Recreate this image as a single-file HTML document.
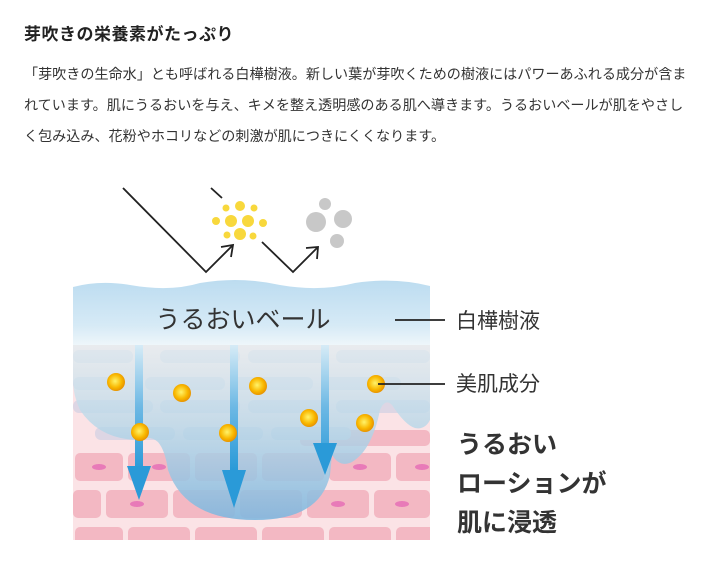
<!DOCTYPE html>
<html><head><meta charset="utf-8"><style>
body{margin:0;width:713px;height:570px;background:#fff;overflow:hidden;font-family:"Liberation Sans","Noto Sans CJK JP",sans-serif;color:#222}
h1{position:absolute;left:24px;top:20px;margin:0;font-size:17px;font-weight:bold;letter-spacing:0.5px}
p{position:absolute;left:24px;top:59px;margin:0;width:690px;font-size:14.1px;line-height:31px;color:#333;white-space:nowrap}
svg{position:absolute;left:0;top:0}
</style></head><body>
<h1>芽吹きの栄養素がたっぷり</h1>
<p>「芽吹きの生命水」とも呼ばれる白樺樹液。新しい葉が芽吹くための樹液にはパワーあふれる成分が含ま<br>れています。肌にうるおいを与え、キメを整え透明感のある肌へ導きます。うるおいベールが肌をやさし<br>く包み込み、花粉やホコリなどの刺激が肌につきにくくなります。</p>
<svg width="713" height="570" viewBox="0 0 713 570">
<defs>
<linearGradient id="veil" x1="0" y1="0" x2="0" y2="1"><stop offset="0" stop-color="#bcdcf0"/><stop offset="0.7" stop-color="#d6eaf6"/><stop offset="1" stop-color="#eef6fa"/></linearGradient>
<linearGradient id="blob" x1="0" y1="0" x2="0" y2="1"><stop offset="0" stop-color="#e4f0f2" stop-opacity="0.7"/><stop offset="0.5" stop-color="#b4d6e8" stop-opacity="0.8"/><stop offset="1" stop-color="#80b7de" stop-opacity="0.9"/></linearGradient>
<linearGradient id="arr" gradientUnits="userSpaceOnUse" x1="0" y1="345" x2="0" y2="470"><stop offset="0" stop-color="#d6ebf6"/><stop offset="0.5" stop-color="#6cb8e4"/><stop offset="1" stop-color="#2a9ad8"/></linearGradient>
<radialGradient id="dot" cx="0.45" cy="0.45" r="0.6"><stop offset="0" stop-color="#fff36a"/><stop offset="0.6" stop-color="#f9b800"/><stop offset="1" stop-color="#e38a00"/></radialGradient>
<clipPath id="c"><rect x="73" y="270" width="357" height="270"/></clipPath>
</defs>
<g clip-path="url(#c)">
<rect x="73" y="340" width="357" height="200" fill="#fbe3e6"/>
<g fill="#f3b8c3">
<rect x="75" y="453" width="48" height="28" rx="5"/><rect x="128" y="453" width="62" height="28" rx="5"/><rect x="195" y="453" width="62" height="28" rx="5"/><rect x="262" y="453" width="62" height="28" rx="5"/><rect x="329" y="453" width="62" height="28" rx="5"/><rect x="396" y="453" width="40" height="28" rx="5"/>
<rect x="73" y="490" width="28" height="28" rx="5"/><rect x="106" y="490" width="62" height="28" rx="5"/><rect x="173" y="490" width="62" height="28" rx="5"/><rect x="240" y="490" width="62" height="28" rx="5"/><rect x="307" y="490" width="62" height="28" rx="5"/><rect x="374" y="490" width="56" height="28" rx="5"/>
<rect x="75" y="527" width="48" height="20" rx="5"/><rect x="128" y="527" width="62" height="20" rx="5"/><rect x="195" y="527" width="62" height="20" rx="5"/><rect x="262" y="527" width="62" height="20" rx="5"/><rect x="329" y="527" width="62" height="20" rx="5"/><rect x="396" y="527" width="40" height="20" rx="5"/>
<rect x="300" y="430" width="130" height="16" rx="5"/>
</g>
<g fill="#e87ab8"><ellipse cx="99" cy="467" rx="7" ry="3"/><ellipse cx="159" cy="467" rx="7" ry="3"/><ellipse cx="360" cy="467" rx="7" ry="3"/><ellipse cx="137" cy="504" rx="7" ry="3"/><ellipse cx="338" cy="504" rx="7" ry="3"/><ellipse cx="402" cy="504" rx="7" ry="3"/><ellipse cx="422" cy="467" rx="7" ry="3"/></g>
<g fill="#ddd6e4">
<rect x="73" y="350" width="60" height="13" rx="6"/><rect x="160" y="350" width="80" height="13" rx="6"/><rect x="248" y="350" width="80" height="13" rx="6"/><rect x="336" y="350" width="94" height="13" rx="6"/>
<rect x="73" y="377" width="50" height="13" rx="6"/><rect x="145" y="377" width="80" height="13" rx="6"/><rect x="233" y="377" width="80" height="13" rx="6"/><rect x="321" y="377" width="80" height="13" rx="6"/>
<rect x="73" y="400" width="80" height="13" rx="6"/><rect x="160" y="400" width="80" height="13" rx="6"/><rect x="248" y="400" width="80" height="13" rx="6"/><rect x="336" y="400" width="94" height="13" rx="6"/>
<rect x="95" y="427" width="80" height="13" rx="6"/><rect x="183" y="427" width="80" height="13" rx="6"/><rect x="271" y="427" width="80" height="13" rx="6"/>
</g>
<path d="M73 340 L430 340 L430 420 Q425 430 415 428 Q405 425 392 405 Q385 398 380 410 Q372 450 352 462 Q340 468 332 455 L330 475 Q320 520 255 520 Q185 520 168 470 Q165 450 158 442 Q150 435 140 440 Q100 440 80 410 Q73 395 73 380Z" fill="url(#blob)"/>
<path d="M73 287 Q100 280 130 285 Q170 292 200 283 Q240 276 280 285 Q320 292 355 283 Q395 277 430 286 L430 345 L73 345Z" fill="url(#veil)"/>
</g>
<text x="243" y="328" font-size="25" text-anchor="middle" fill="#333" font-family="Liberation Sans,Noto Sans CJK JP,sans-serif">うるおいベール</text>
<g fill="url(#arr)">
<rect x="135" y="345" width="8" height="125"/>
<rect x="230" y="345" width="8" height="128"/>
<rect x="321" y="345" width="8" height="102"/>
</g>
<g fill="#2a9ad8">
<path d="M127 466 L151 466 L139 500Z"/>
<path d="M222 470 L246 470 L234 508Z"/>
<path d="M313 443 L337 443 L325 475Z"/>
</g>
<g fill="url(#dot)">
<circle cx="116" cy="382" r="9"/><circle cx="182" cy="393" r="9"/><circle cx="258" cy="386" r="9"/><circle cx="376" cy="384" r="9"/><circle cx="140" cy="432" r="9"/><circle cx="228" cy="433" r="9"/><circle cx="309" cy="418" r="9"/><circle cx="365" cy="423" r="9"/>
</g>
<g stroke="#222" stroke-width="1.8" fill="none">
<polyline points="123,188 206,272 233,245"/><polyline points="221,247 233,245 231,257"/>
<line x1="211" y1="188" x2="222" y2="198"/>
<polyline points="262,242 293,272 318,247"/><polyline points="306,248 318,247 317,259"/>
<line x1="395" y1="320" x2="445" y2="320"/><line x1="378" y1="384" x2="445" y2="384"/>
</g>
<g fill="#f8d83c"><circle cx="240" cy="206" r="5"/><circle cx="231" cy="221" r="6"/><circle cx="248" cy="221" r="6"/><circle cx="240" cy="234" r="6"/><circle cx="216" cy="221" r="4"/><circle cx="226" cy="208" r="3.5"/><circle cx="254" cy="208" r="3.5"/><circle cx="263" cy="223" r="4"/><circle cx="227" cy="235" r="3.5"/><circle cx="253" cy="236" r="3.5"/></g>
<g fill="#c8c8c8"><circle cx="325" cy="204" r="6"/><circle cx="316" cy="222" r="10"/><circle cx="343" cy="219" r="9"/><circle cx="337" cy="241" r="7"/></g>
<g font-family="Liberation Sans,Noto Sans CJK JP,sans-serif" fill="#333">
<text x="456" y="328" font-size="21">白樺樹液</text>
<text x="456" y="391" font-size="21">美肌成分</text>
<g font-size="25" font-weight="bold"><text x="457" y="453">うるおい</text><text x="457" y="492">ローションが</text><text x="457" y="531">肌に浸透</text></g>
</g>
</svg>
</body></html>
